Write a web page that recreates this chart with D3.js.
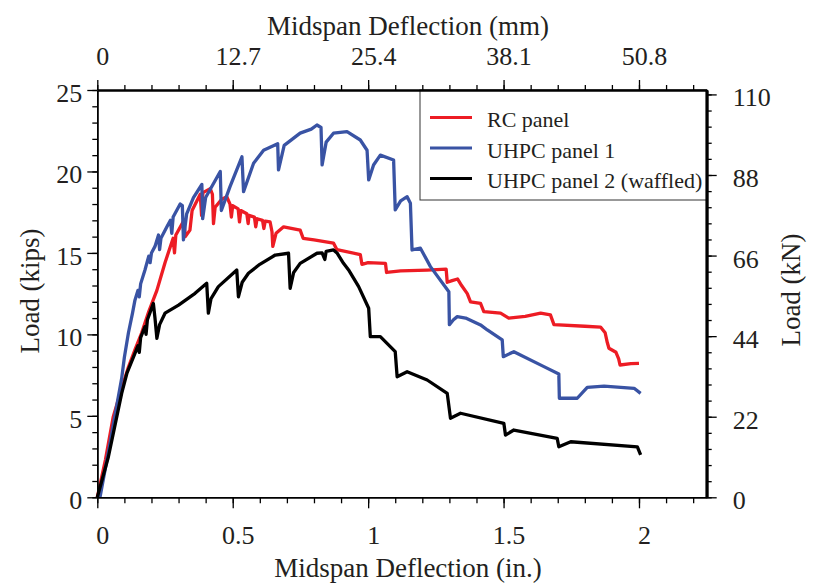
<!DOCTYPE html>
<html>
<head>
<meta charset="utf-8">
<script src="https://cdn.jsdelivr.net/npm/d3@7"></script>
<style>
  body { margin: 0; background: #fff; }
  svg text { font-family: "Liberation Serif", "Times New Roman", serif; fill: #231f20; }
</style>
</head>
<body>
<script>
// deflection (in.) / load (kips)
const rcPanel = [
  [0,0],[0.03,2.3],[0.059,4.95],[0.09,6.7],[0.115,8.0],[0.14,9.1],[0.164,10.1],[0.19,11.4],[0.22,12.7],
  [0.25,14.4],[0.28,15.9],[0.285,15.0],[0.29,16.1],[0.32,17.0],[0.325,16.0],[0.342,16.4],[0.35,17.6],
  [0.38,18.6],[0.385,17.3],[0.39,18.7],[0.417,18.95],[0.425,18.6],[0.429,16.8],[0.435,17.8],[0.46,18.3],
  [0.478,18.45],[0.49,18.0],[0.495,17.2],[0.50,17.9],[0.52,17.7],[0.525,16.9],[0.53,17.6],[0.552,17.4],
  [0.557,16.8],[0.56,17.3],[0.58,17.2],[0.585,16.6],[0.59,17.1],[0.61,17.0],[0.615,16.5],[0.62,16.95],
  [0.638,16.9],[0.645,16.3],[0.648,15.4],[0.66,16.2],[0.688,16.6],[0.749,16.4],[0.76,15.9],[0.80,15.8],
  [0.872,15.6],[0.885,15.2],[0.971,14.9],[0.977,14.3],[1.0,14.4],[1.064,14.36],[1.068,13.8],[1.12,13.9],
  [1.218,13.95],[1.288,14.0],[1.292,13.2],[1.31,13.3],[1.33,13.4],[1.345,13.0],[1.366,12.5],[1.378,12.0],
  [1.415,11.9],[1.427,11.4],[1.489,11.3],[1.519,11.0],[1.58,11.1],[1.637,11.3],[1.673,11.2],[1.686,10.6],
  [1.80,10.5],[1.858,10.45],[1.875,10.1],[1.883,9.5],[1.889,9.15],[1.915,8.9],[1.925,8.5],[1.93,8.12],
  [1.97,8.2],[2.0,8.22]
];
const uhpcPanel1 = [
  [0.01,0],[0.03,1.8],[0.05,3.6],[0.066,5.1],[0.078,6.2],[0.09,7.3],[0.1,8.6],[0.115,10.1],[0.13,11.3],
  [0.139,12.1],[0.15,12.7],[0.155,12.3],[0.16,13.1],[0.176,13.95],[0.19,14.8],[0.195,14.4],[0.2,15.0],
  [0.213,15.4],[0.226,16.1],[0.23,15.2],[0.235,15.9],[0.257,16.6],[0.27,17.0],[0.275,16.2],[0.28,17.2],
  [0.306,18.0],[0.314,17.9],[0.318,15.8],[0.33,17.4],[0.355,18.4],[0.386,19.2],[0.389,17.1],[0.40,18.4],
  [0.454,20.0],[0.458,17.6],[0.49,19.07],[0.534,20.9],[0.54,18.76],[0.577,20.5],[0.614,21.3],[0.666,21.7],
  [0.669,20.1],[0.69,21.6],[0.749,22.35],[0.79,22.6],[0.811,22.85],[0.826,22.7],[0.83,20.4],[0.845,21.8],
  [0.872,22.35],[0.922,22.44],[0.971,21.93],[0.996,21.3],[1.002,19.48],[1.02,20.4],[1.045,21.0],
  [1.094,20.7],[1.1,17.64],[1.12,18.2],[1.144,18.45],[1.156,18.05],[1.162,15.18],[1.193,15.29],
  [1.23,14.16],[1.298,12.62],[1.30,10.6],[1.315,10.9],[1.329,11.09],[1.36,11.0],[1.415,10.58],[1.44,10.27],
  [1.495,9.66],[1.499,8.63],[1.538,8.94],[1.649,8.02],[1.704,7.57],[1.706,6.08],[1.772,6.08],[1.809,6.75],
  [1.871,6.83],[1.982,6.69],[2.006,6.38]
];
const uhpcPanel2 = [
  [0,0],[0.041,2.49],[0.09,6.38],[0.109,7.6],[0.139,8.84],[0.15,9.3],[0.155,8.9],[0.16,9.8],[0.176,10.47],
  [0.18,10.0],[0.185,10.9],[0.207,11.9],[0.213,11.0],[0.22,9.76],[0.23,10.6],[0.25,11.3],[0.3,11.8],
  [0.361,12.52],[0.404,13.14],[0.41,11.3],[0.42,12.2],[0.447,12.93],[0.515,13.95],[0.521,12.31],
  [0.535,13.2],[0.558,13.75],[0.60,14.3],[0.657,14.87],[0.706,14.98],[0.712,12.83],[0.725,13.8],
  [0.749,14.36],[0.811,14.98],[0.83,15.0],[0.84,14.6],[0.845,15.1],[0.872,15.18],[0.885,15.0],
  [0.909,14.36],[0.93,13.9],[0.965,12.93],[1.002,11.6],[1.008,9.86],[1.045,9.86],[1.1,8.94],[1.107,7.4],
  [1.144,7.71],[1.218,7.2],[1.292,6.38],[1.304,4.85],[1.341,5.16],[1.501,4.54],[1.507,3.82],[1.538,4.13],
  [1.698,3.62],[1.704,3.1],[1.748,3.41],[1.994,3.1],[2.006,2.6]
];

const seriesNames = ["RC panel", "UHPC panel 1", "UHPC panel 2 (waffled)"];
const seriesColors = ["#ed1c24", "#3953a4", "#000000"];

const inTicks = [0, 0.5, 1, 1.5, 2];
const mmTicks = [0, 12.7, 25.4, 38.1, 50.8];
const kipTicks = [0, 5, 10, 15, 20, 25];
const kNTicks = [0, 22, 44, 66, 88, 110];

const margin = { top: 90, right: 125.3, bottom: 90.7, left: 97.3 };
const width = 832 - margin.left - margin.right;
const height = 588 - margin.top - margin.bottom;

const svg = d3.select("body").append("svg")
  .attr("width", 832).attr("height", 588);
const g = svg.append("g").attr("transform", `translate(${margin.left},${margin.top})`);

const x = d3.scaleLinear().domain([0, 2.25]).range([0, width]);
const xmm = d3.scaleLinear().domain([0, 2.25 * 25.4]).range([0, width]);
const y = d3.scaleLinear().domain([0, 25]).range([height, 0]);
const ykN = d3.scaleLinear().domain([0, 25 * 4.44822]).range([height, 0]);

// curves
const line = d3.line().x(d => x(d[0])).y(d => y(d[1]));
[rcPanel, uhpcPanel1, uhpcPanel2].forEach((s, i) => {
  g.append("path")
    .datum(s)
    .attr("d", line)
    .attr("fill", "none")
    .attr("stroke", seriesColors[i])
    .attr("stroke-width", 3.3)
    .attr("stroke-linejoin", "round");
});

// legend
const leg = g.append("g");
leg.append("rect")
  .attr("x", 420 - margin.left).attr("y", 0)
  .attr("width", width - (420 - margin.left)).attr("height", 110)
  .attr("fill", "#fff").attr("stroke", "#333").attr("stroke-width", 1);
seriesNames.forEach((n, i) => {
  const ly = 27.5 + i * 30.5;
  leg.append("line")
    .attr("x1", 430 - margin.left).attr("x2", 472 - margin.left)
    .attr("y1", ly).attr("y2", ly)
    .attr("stroke", seriesColors[i]).attr("stroke-width", 3);
  leg.append("text")
    .attr("x", 487 - margin.left).attr("y", ly + 9.5)
    .attr("font-size", 22)
    .text(n);
});

// axes
const minorIn = d3.range(0, 2.25, 0.1);
const minorKip = d3.range(0, 25.01, 1);
const minorkN = d3.range(0, 110.01, 4.4);

function styleAxis(sel, w) {
  sel.select(".domain").attr("stroke", "#000").attr("stroke-width", w);
  sel.selectAll(".tick line").attr("stroke", "#000").attr("stroke-width", 1.3);
}

// bottom
g.append("g").attr("transform", `translate(0,${height})`)
  .call(d3.axisBottom(x).tickValues(minorIn).tickSize(6).tickSizeOuter(0).tickFormat(""))
  .call(s => styleAxis(s, 1.5));
g.append("g").attr("transform", `translate(0,${height})`)
  .call(d3.axisBottom(x).tickValues(inTicks).tickSize(11).tickSizeOuter(0).tickFormat(d3.format("")))
  .call(s => styleAxis(s, 1.5))
  .call(s => s.selectAll("text").attr("y", 47).attr("dy", 0).attr("dx", 5).attr("font-size", 26)
    .attr("font-family", "Liberation Serif").attr("fill", "#231f20"));

// top
g.append("g")
  .call(d3.axisTop(xmm).tickValues(d3.range(0, 57.15, 2.54)).tickSize(5).tickSizeOuter(0).tickFormat(""))
  .call(s => styleAxis(s, 2));
g.append("g")
  .call(d3.axisTop(xmm).tickValues(mmTicks).tickSize(10).tickSizeOuter(0).tickFormat(d3.format("")))
  .call(s => styleAxis(s, 2))
  .call(s => s.selectAll("text").attr("y", -25).attr("dy", 0).attr("dx", 5).attr("font-size", 26)
    .attr("font-family", "Liberation Serif").attr("fill", "#231f20"));

// left
g.append("g")
  .call(d3.axisLeft(y).tickValues(minorKip).tickSize(5).tickSizeOuter(0).tickFormat(""))
  .call(s => styleAxis(s, 1.5));
g.append("g")
  .call(d3.axisLeft(y).tickValues(kipTicks).tickSize(10).tickSizeOuter(0).tickFormat(d3.format("")))
  .call(s => styleAxis(s, 1.5))
  .call(s => s.selectAll("text").attr("x", -15).attr("dy", 11.5).attr("font-size", 26)
    .attr("font-family", "Liberation Serif").attr("fill", "#231f20"));

// right
g.append("g").attr("transform", `translate(${width},0)`)
  .call(d3.axisRight(ykN).tickValues(minorkN).tickSize(5).tickSizeOuter(0).tickFormat(""))
  .call(s => styleAxis(s, 2.5));
g.append("g").attr("transform", `translate(${width},0)`)
  .call(d3.axisRight(ykN).tickValues(kNTicks).tickSize(10).tickSizeOuter(0).tickFormat(d3.format("")))
  .call(s => styleAxis(s, 2.5))
  .call(s => s.selectAll("text").attr("x", 26).attr("dy", 11.5).attr("font-size", 26)
    .attr("font-family", "Liberation Serif").attr("fill", "#231f20"));
// right axis spans full plot height
g.append("line").attr("x1", width).attr("x2", width).attr("y1", 0).attr("y2", height)
  .attr("stroke", "#000").attr("stroke-width", 2.5);

// titles
svg.append("text").attr("x", 408).attr("y", 35).attr("text-anchor", "middle")
  .attr("font-size", 27).text("Midspan Deflection (mm)");
svg.append("text").attr("x", 408).attr("y", 577).attr("text-anchor", "middle")
  .attr("font-size", 27).text("Midspan Deflection (in.)");
svg.append("text").attr("transform", "translate(38.5,291) rotate(-90)").attr("text-anchor", "middle")
  .attr("font-size", 27).text("Load (kips)");
svg.append("text").attr("transform", "translate(800,290) rotate(-90)").attr("text-anchor", "middle")
  .attr("font-size", 27).text("Load (kN)");
</script>
</body>
</html>
